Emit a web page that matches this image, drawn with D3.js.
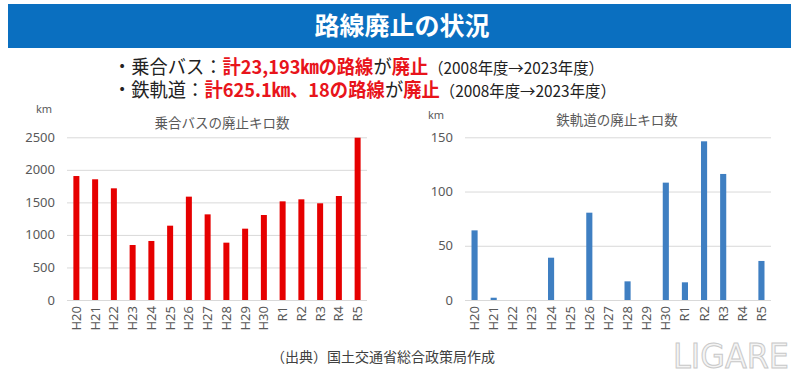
<!DOCTYPE html>
<html>
<head>
<meta charset="utf-8">
<script src="https://cdn.jsdelivr.net/npm/d3@7"></script>
<style>
  body { margin: 0; background: #fff; }
  svg { display: block; font-family: "Noto Sans", "Noto Sans CJK JP", sans-serif; }
</style>
</head>
<body>
<svg id="chart" width="798" height="377"></svg>
<script>
// fiscal years (Heisei / Reiwa)
const years = ["H20", "H21", "H22", "H23", "H24", "H25", "H26", "H27", "H28", "H29", "H30", "R1", "R2", "R3", "R4", "R5"];
// bus route km abolished
const busKm = [1905, 1855, 1716, 845, 907, 1142, 1588, 1316, 881, 1096, 1306, 1516, 1547, 1486, 1598, 2494];
// railway km abolished
const railKm = [64.2, 2.1, 0, 0, 39, 0, 80.5, 0, 17.2, 0, 108.2, 16.3, 146.3, 116.2, 0, 36];
const busTicks = [0, 500, 1000, 1500, 2000, 2500];
const railTicks = [0, 50, 100, 150];

const svg = d3.select("#chart");
const jp = '"Noto Sans CJK JP", sans-serif';

// header bar
svg.append("rect")
    .attr("x", 8).attr("y", 4)
    .attr("width", 783).attr("height", 44)
    .attr("fill", "#0a6fc0");
svg.append("text")
    .attr("x", 402).attr("y", 35)
    .attr("text-anchor", "middle")
    .style("font-family", jp)
    .style("font-weight", "bold")
    .style("font-size", "25px")
    .attr("fill", "#fff")
    .text("路線廃止の状況");

// summary lines (each piece is its own text, squeezed to fit like the original)
const lines = [
    { y: 74, right: 604, parts: [["・乗合バス：", "n"], ["計23,193㎞の路線", "r"], ["が", "n"], ["廃止", "r"], ["（2008年度→2023年度）", "s"]] },
    { y: 97, right: 616, parts: [["・鉄軌道：", "n"], ["計625.1㎞、18の路線", "r"], ["が", "n"], ["廃止", "r"], ["（2008年度→2023年度）", "s"]] }
];
lines.forEach(l => {
    const pieces = l.parts.map(p => svg.append("text")
        .style("font-family", jp)
        .style("font-size", p[1] === "s" ? "16px" : "19px")
        .style("font-weight", p[1] === "r" ? "bold" : "normal")
        .attr("fill", p[1] === "r" ? "#e8141b" : "#222")
        .text(p[0]));
    const widths = pieces.map(t => t.node().getComputedTextLength());
    const sx = (l.right - 113) / d3.sum(widths);
    let cx = 113;
    pieces.forEach((t, i) => {
        t.attr("transform", `translate(${cx},${l.y}) scale(${sx},1)`);
        cx += widths[i] * sx;
    });
});

function drawChart(cfg) {
    const x = d3.scaleBand()
        .domain(years)
        .range([cfg.x0, cfg.x1])
        .paddingInner(0.68)
        .paddingOuter(0.34);
    const y = d3.scaleLinear()
        .domain([0, cfg.max])
        .range([300, 137.3]);

    const g = svg.append("g");

    g.selectAll(".grid")
        .data(cfg.ticks)
        .join("line")
        .attr("x1", cfg.x0).attr("x2", cfg.x1)
        .attr("y1", d => y(d) + 0.5).attr("y2", d => y(d) + 0.5)
        .attr("stroke", "#d9d9d9")
        .attr("stroke-width", 1);

    g.selectAll(".ylab")
        .data(cfg.ticks)
        .join("text")
        .attr("x", cfg.x0 - 12)
        .attr("y", d => y(d) + 4.5)
        .attr("text-anchor", "end")
        .style("font-size", "13px")
        .attr("fill", "#595959")
        .text(d => d);

    g.selectAll(".bar")
        .data(cfg.values)
        .join("rect")
        .attr("x", (d, i) => x(years[i]))
        .attr("width", x.bandwidth())
        .attr("y", d => y(d))
        .attr("height", d => 300 - y(d))
        .attr("fill", cfg.color);

    g.selectAll(".xlab")
        .data(years)
        .join("text")
        .attr("transform", d => `translate(${x(d) + x.bandwidth() / 2 + 4.5},306) rotate(-90)`)
        .attr("text-anchor", "end")
        .style("font-size", "13px")
        .attr("fill", "#595959")
        .text(d => d);

    g.append("text")
        .attr("x", cfg.kmX).attr("y", cfg.kmY)
        .style("font-size", "11px")
        .attr("fill", "#595959")
        .text("km");

    g.append("text")
        .attr("x", cfg.titleX).attr("y", cfg.titleY)
        .attr("text-anchor", "middle")
        .style("font-family", jp)
        .style("font-size", "13.5px")
        .attr("fill", "#595959")
        .text(cfg.title);
}

drawChart({ x0: 67, x1: 367, max: 2500, ticks: busTicks, values: busKm, color: "#e60000",
    kmX: 36, kmY: 113, titleX: 222, titleY: 128, title: "乗合バスの廃止キロ数" });
drawChart({ x0: 465, x1: 771, max: 150, ticks: railTicks, values: railKm, color: "#3f7fc2",
    kmX: 428, kmY: 119, titleX: 617, titleY: 125, title: "鉄軌道の廃止キロ数" });

// source
svg.append("text")
    .attr("x", 383).attr("y", 362)
    .attr("text-anchor", "middle")
    .style("font-family", jp)
    .style("font-size", "14px")
    .attr("fill", "#404040")
    .text("（出典）国土交通省総合政策局作成");

// watermark
svg.append("text")
    .attr("x", 731).attr("y", 368)
    .attr("text-anchor", "middle")
    .style("font-family", "'DejaVu Sans', sans-serif")
    .style("font-size", "34px")
    .attr("fill", "#f4f4f4")
    .attr("stroke", "#c8c8c8")
    .attr("stroke-width", 1)
    .attr("textLength", 116)
    .attr("lengthAdjust", "spacingAndGlyphs")
    .text("LIGARE");
</script>
</body>
</html>
